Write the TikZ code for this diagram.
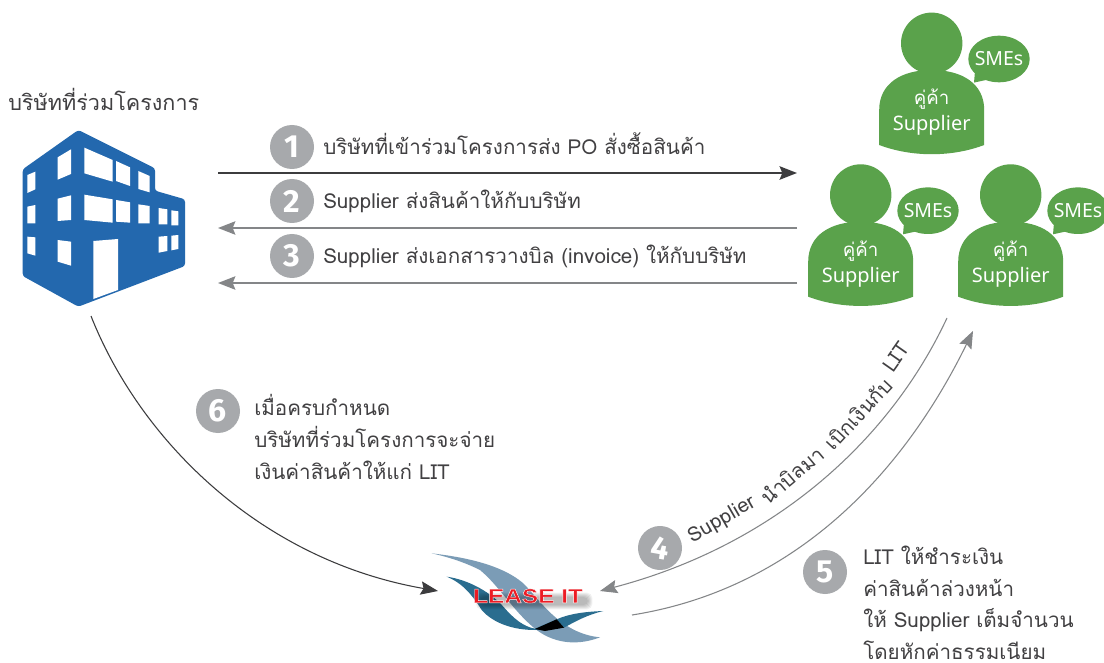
\documentclass[tikz,border=0pt]{standalone}
\usepackage{fontspec}
\usetikzlibrary{arrows.meta}
\setmainfont[Script=Thai]{Loma}
\newfontfamily\latinsans{Noto Sans}
\newfontfamily\numfont{Fira Sans}
\newfontfamily\logofont{Liberation Sans}
\definecolor{sgreen}{HTML}{5AA24B}
\definecolor{bblue}{HTML}{2368AE}
\definecolor{cgray}{HTML}{A7A9AC}
\definecolor{ink}{HTML}{414042}
\definecolor{dark}{HTML}{3C3C3E}
\definecolor{agray}{HTML}{848688}
\definecolor{lblue}{HTML}{7B9CB6}
\definecolor{teal}{HTML}{2A6D8F}
\definecolor{logored}{HTML}{EC1C24}
\tikzset{
 tipa/.style={-{Stealth[length=13pt,width=10pt,inset=2pt]}},
 darkarrow/.style={tipa,draw=dark,line width=1.7pt},
 grayarrow/.style={tipa,draw=agray,line width=1.5pt},
 thinarrowgray/.style={tipa,draw=agray,line width=0.8pt},
 thinarrowdark/.style={tipa,draw=dark,line width=0.8pt},
 numcircle/.style={circle,fill=cgray,minimum size=33pt,inner sep=0pt,text=white,font=\numfont\bfseries\fontsize{24}{24}\selectfont},
 steptext/.style={anchor=base west,inner sep=0pt,text=ink,font=\fontsize{15.45}{15.45}\selectfont},
 manytext/.style={anchor=west,inner sep=0pt,text=ink,align=left,font=\fontsize{15.45}{23.7}\selectfont},
 whitetext/.style={inner sep=0pt,text=white,font=\fontsize{#1}{#1}\selectfont},
 curvetext/.style={inner sep=0pt,text=ink,font=\fontsize{15.2}{15.2}\selectfont},
 supplier/.pic={
   \fill[sgreen] (-52.5,101.7) .. controls (-20,114) and (20,114) .. (52.5,101.7)
      -- (52.5,66.7) .. controls (52.5,40) and (30,26.7) .. (0,26.7)
      .. controls (-30,26.7) and (-52.5,40) .. (-52.5,66.7) -- cycle;
   \fill[sgreen] (0,0) circle[radius=30.7];
   \fill[sgreen] (67.3,15.7) ellipse[x radius=30.7,y radius=23.3];
   \fill[sgreen] (44,20) -- (42.3,39.3) -- (62,35) -- cycle;
   \node[whitetext=14.6] (-sme) at (67.3,15.7) {\latinsans SMEs};
   \node[whitetext=14] (-kha) at (0,56) {คู่ค้า};
   \node[whitetext=15] (-sup) at (0,82) {\latinsans Supplier};
 }
}
\begin{document}
\begin{tikzpicture}[x=0.75pt,y=-0.75pt]
\useasboundingbox (0,0) rectangle (1104,663);
\fill[white] (0,0) rectangle (1104,663);
% building
\begin{scope}[shift={(0,80)},x=0.25pt,y=-0.25pt]
\fill[bblue,rounded corners=2pt] (235,150) -- (465,265) -- (465,332) -- (555,358) -- (555,558) -- (235,680) -- (68,588) -- (68,268) -- cycle;
\fill[white] (82,285)--(106,275)--(106,328)--(82,339)--cycle
 (173,232)--(213,208)--(213,282)--(173,299)--cycle
 (253,203)--(338,240)--(338,305)--(253,280)--cycle
 (348,243)--(390,262)--(390,318)--(348,303)--cycle
 (415,273)--(449,288)--(449,337)--(415,327)--cycle
 (82,380)--(106,375)--(106,430)--(82,430)--cycle
 (173,356)--(213,346)--(213,420)--(173,423)--cycle
 (253,344)--(338,358)--(338,428)--(253,420)--cycle
 (348,360)--(390,367)--(390,428)--(348,425)--cycle
 (415,373)--(449,378)--(449,430)--(415,430)--cycle
 (476,384)--(502,388)--(502,433)--(476,433)--cycle
 (514,391)--(535,394)--(535,436)--(514,436)--cycle
 (82,470)--(106,472)--(106,527)--(82,520)--cycle
 (173,480)--(213,485)--(213,557)--(173,545)--cycle
 (280,483)--(354,477)--(354,630)--(280,657)--cycle
 (476,470)--(502,468)--(502,513)--(476,518)--cycle
 (514,467)--(535,465)--(535,507)--(514,511)--cycle;
\end{scope}
\node[anchor=base west,inner sep=0pt,text=ink,font=\fontsize{16.2}{16.2}\selectfont] (title) at (8,111) {บริษัทที่ร่วมโครงการ};
% suppliers
\pic (p1) at (931.7,43.3) {supplier};
\pic (p2) at (860.7,195) {supplier};
\pic (p3) at (1010.7,195) {supplier};
% logo
\begin{scope}[shift={(420,530)},x=0.25pt,y=-0.25pt]
\fill[lblue] (35,70) .. controls (120,80) and (240,100) .. (310,160) .. controls (360,210) and (420,310) .. (540,322) .. controls (480,345) and (410,345) .. (350,300) .. controls (280,245) and (240,170) .. (180,120) .. controls (130,95) and (80,80) .. (35,70) -- cycle;
\fill[teal] (80,140) .. controls (150,150) and (215,190) .. (250,230) .. controls (280,265) and (310,290) .. (345,296) -- (410,268) .. controls (450,250) and (500,245) .. (550,243) .. controls (500,255) and (465,275) .. (432,293) -- (345,300) .. controls (280,300) and (220,280) .. (185,240) .. controls (160,200) and (130,160) .. (80,140) -- cycle;
\fill[black] (345,297) -- (410,268) -- (432,293) -- (375,303) -- cycle;
\foreach \g in {0,3,...,12}{
 \fill[black,opacity=0.06,rounded corners=4pt] (180-\g,200-\g) rectangle (505+\g,226+\g);
}
\end{scope}
\node[inner sep=0pt,text=logored,xscale=1.22,font=\logofont\bfseries\fontsize{15}{15}\selectfont] (logo) at (528,596) {\special{pdf:code q 1 1 1 RG 0.25 w 2 Tr}LEASE IT\special{pdf:code Q}};
% circles
\node[numcircle] (n1) at (292,147) {1};
\node[numcircle] (n2) at (292,201) {2};
\node[numcircle] (n3) at (292,256) {3};
\node[numcircle] (n6) at (218,411) {6};
\node[numcircle,rotate=-10] (n4) at (660,548) {4};
\node[numcircle] (n5) at (825,572) {5};
% texts
\node[steptext] (t1) at (323,154.5) {บริษัทที่เข้าร่วมโครงการส่ง PO สั่งซื้อสินค้า};
\node[steptext] (t2) at (323,208.5) {Supplier ส่งสินค้าให้กับบริษัท};
\node[steptext] (t3) at (323,263.5) {Supplier ส่งเอกสารวางบิล (invoice) ให้กับบริษัท};
\node[manytext] (t6) at (254,437) {เมื่อครบกำหนด\\บริษัทที่ร่วมโครงการจะจ่าย\\เงินค่าสินค้าให้แก่ LIT};
\node[manytext] (t5) at (863,603) {LIT ให้ชำระเงิน\\ค่าสินค้าล่วงหน้า\\ให้ Supplier เต็มจำนวน\\โดยหักค่าธรรมเนียม};
\node[curvetext,rotate=30] (c1) at (722,520) {Supplier};
\node[curvetext,rotate=40] (c2) at (792,475) {นำบิลมา};
\node[curvetext,rotate=47] (c3) at (858,414) {เบิกเงินกับ};
\node[curvetext,rotate=55] (c4) at (896,357) {LIT};
% connectors
\coordinate (a1s) at (218,173); \coordinate (a1e) at (797,173);
\coordinate (a2s) at (797,228); \coordinate (a2e) at (218,228);
\coordinate (a3s) at (797,283); \coordinate (a3e) at (218,283);
\coordinate (a6s) at (91,316); \coordinate (a6e) at (438,591);
\coordinate (a4s) at (947,318); \coordinate (a4e) at (600,591);
\coordinate (a5s) at (632,615); \coordinate (a5e) at (973,331);
\draw[darkarrow] (a1s) -- (a1e);
\draw[grayarrow] (a2s) -- (a2e);
\draw[grayarrow] (a3s) -- (a3e);
\draw[thinarrowdark] (a6s) .. controls (140,440) and (260,560) .. (a6e);
\draw[thinarrowgray] (a4s) .. controls (890,440) and (775,545) .. (a4e);
\draw[thinarrowgray] (a5s) .. controls (790,590) and (900,480) .. (a5e);
\end{tikzpicture}
\end{document}
